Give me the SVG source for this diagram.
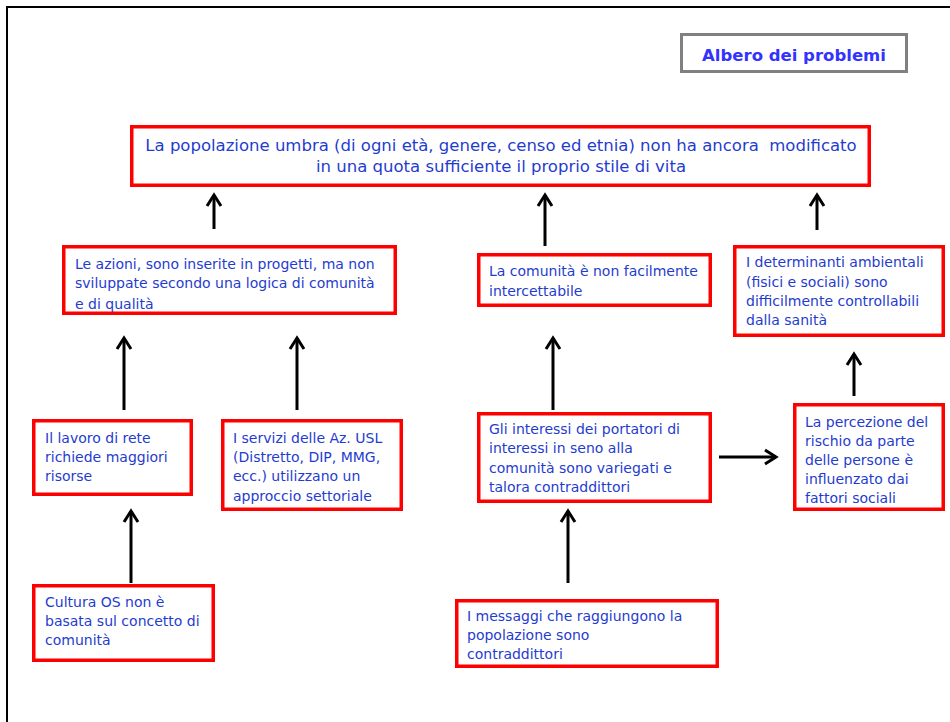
<svg xmlns="http://www.w3.org/2000/svg" width="950" height="722" viewBox="0 0 950 722">
<defs>
<marker id="arr" markerUnits="userSpaceOnUse" markerWidth="18" markerHeight="18" viewBox="0 0 18 18" refX="14" refY="9" orient="auto">
<path d="M3,2 L14,9 L3,16" fill="none" stroke="#000" stroke-width="3"/>
</marker>
<style>
.box{fill:#fff;stroke:#ff0000;stroke-width:3.5}
.t{font-family:"DejaVu Sans","Liberation Sans",sans-serif;font-size:14px;fill:#1f3cd0}
.m{font-family:"DejaVu Sans","Liberation Sans",sans-serif;font-size:16.5px;fill:#1f3cd0;white-space:pre}
.c{stroke:#000;stroke-width:3;fill:none;marker-end:url(#arr)}
</style>
</defs>
<rect width="950" height="722" fill="#fff"/>
<path d="M7,722 V7 H950" fill="none" stroke="#000" stroke-width="2"/>
<g id="title">
<rect x="681.5" y="34.5" width="225" height="37" fill="#fff" stroke="#808080" stroke-width="3"/>
<text x="794" y="61" text-anchor="middle" font-family="DejaVu Sans, Liberation Sans, sans-serif" font-weight="bold" font-size="16.5" fill="#3333ff">Albero dei problemi</text>
</g>
<g id="connectors">
<line class="c" x1="214" y1="229" x2="214" y2="195"/>
<line class="c" x1="545" y1="246" x2="545" y2="195"/>
<line class="c" x1="817" y1="230" x2="817" y2="195"/>
<line class="c" x1="124" y1="410" x2="124" y2="338"/>
<line class="c" x1="297" y1="410" x2="297" y2="338"/>
<line class="c" x1="553" y1="410" x2="553" y2="338"/>
<line class="c" x1="854" y1="396" x2="854" y2="354"/>
<line class="c" x1="131" y1="583" x2="131" y2="511"/>
<line class="c" x1="568" y1="583" x2="568" y2="511"/>
<line class="c" x1="719" y1="457" x2="776" y2="457"/>
</g>
<g id="n-main">
<rect class="box" x="131.75" y="126.75" width="737.5" height="58.5"/>
<text class="m" text-anchor="middle" xml:space="preserve"><tspan x="501" y="151">La popolazione umbra (di ogni età, genere, censo ed etnia) non ha ancora  modificato</tspan><tspan x="501" y="172">in una quota sufficiente il proprio stile di vita</tspan></text>
</g>
<g id="n-azioni">
<rect class="box" x="63.75" y="246.75" width="331.5" height="66.5"/>
<text class="t"><tspan x="75" y="269">Le azioni, sono inserite in progetti, ma non</tspan><tspan x="75" y="288">sviluppate secondo una logica di comunità</tspan><tspan x="75" y="309">e di qualità</tspan></text>
</g>
<g id="n-comunita">
<rect class="box" x="478.75" y="254.75" width="231.5" height="50.5"/>
<text class="t"><tspan x="489" y="276">La comunità è non facilmente</tspan><tspan x="489" y="296">intercettabile</tspan></text>
</g>
<g id="n-determinanti">
<rect class="box" x="734.75" y="246.75" width="208.5" height="88.5"/>
<text class="t"><tspan x="746" y="267">I determinanti ambientali</tspan><tspan x="746" y="287">(fisici e sociali) sono</tspan><tspan x="746" y="306">difficilmente controllabili</tspan><tspan x="746" y="325">dalla sanità</tspan></text>
</g>
<g id="n-lavoro">
<rect class="box" x="33.75" y="420.75" width="157.5" height="73.5"/>
<text class="t"><tspan x="45" y="443">Il lavoro di rete</tspan><tspan x="45" y="462">richiede maggiori</tspan><tspan x="45" y="481">risorse</tspan></text>
</g>
<g id="n-servizi">
<rect class="box" x="222.75" y="420.75" width="178.5" height="88.5"/>
<text class="t"><tspan x="233" y="443">I servizi delle Az. USL</tspan><tspan x="233" y="462">(Distretto, DIP, MMG,</tspan><tspan x="233" y="481">ecc.) utilizzano un</tspan><tspan x="233" y="501">approccio settoriale</tspan></text>
</g>
<g id="n-interessi">
<rect class="box" x="478.75" y="413.75" width="231.5" height="87.5"/>
<text class="t"><tspan x="489" y="434">Gli interessi dei portatori di</tspan><tspan x="489" y="453">interessi in seno alla</tspan><tspan x="489" y="473">comunità sono variegati e</tspan><tspan x="489" y="492">talora contraddittori</tspan></text>
</g>
<g id="n-percezione">
<rect class="box" x="794.75" y="404.75" width="148.5" height="104.5"/>
<text class="t"><tspan x="805" y="427">La percezione del</tspan><tspan x="805" y="446">rischio da parte</tspan><tspan x="805" y="465">delle persone è</tspan><tspan x="805" y="484">influenzato dai</tspan><tspan x="805" y="503">fattori sociali</tspan></text>
</g>
<g id="n-cultura">
<rect class="box" x="33.75" y="585.75" width="179.5" height="74.5"/>
<text class="t"><tspan x="45" y="607">Cultura OS non è</tspan><tspan x="45" y="626">basata sul concetto di</tspan><tspan x="45" y="645">comunità</tspan></text>
</g>
<g id="n-messaggi">
<rect class="box" x="456.75" y="600.75" width="260.5" height="65.5"/>
<text class="t"><tspan x="467" y="621">I messaggi che raggiungono la</tspan><tspan x="467" y="640">popolazione sono</tspan><tspan x="467" y="659">contraddittori</tspan></text>
</g>
</svg>
